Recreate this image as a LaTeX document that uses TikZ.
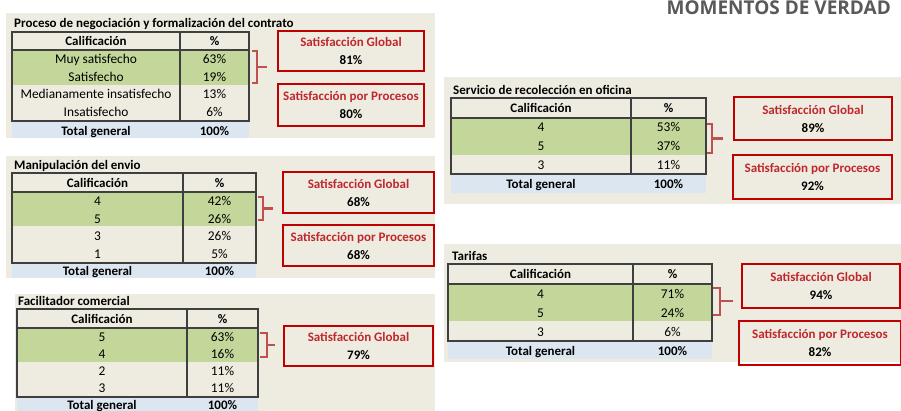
\documentclass[tikz,border=0pt]{standalone}
\usepackage{fontspec}
\setmainfont{Carlito}
\newfontfamily\headfont{Open Sans}
\usepackage{xcolor}
\usetikzlibrary{positioning,calc}

\definecolor{panelbg}{HTML}{EEECE1}
\definecolor{okgreen}{HTML}{C4D79B}
\definecolor{totblue}{HTML}{DCE6F1}
\definecolor{boxred}{HTML}{C00000}
\definecolor{txtred}{HTML}{C0272D}
\definecolor{brred}{HTML}{C0504D}
\definecolor{gridgray}{HTML}{3F3F3F}
\definecolor{headgray}{HTML}{595959}

\begin{document}
\begin{tikzpicture}[
    x=1pt, y=-1pt,
    font=\fontsize{13.4}{15}\selectfont,
    panel/.style={fill=panelbg},
    grid/.style={draw=gridgray, line width=1.3pt},
    cell/.style={inner sep=0pt, anchor=center, text height=8.2pt, text depth=0pt},
    hdr/.style={cell, font=\fontsize{13}{15}\selectfont\bfseries},
    ttl/.style={inner sep=0pt, anchor=west, font=\fontsize{13}{15}\selectfont\bfseries},
    resbox/.style={
        rectangle,
        draw=boxred,
        line width=2.6pt,
        align=center,
        inner sep=0pt,
        font=\fontsize{13}{18}\selectfont\bfseries
      },
    brace/.style={draw=brred, line width=2.4pt}
    ]

    \useasboundingbox (0,0) rectangle (901,411);

    % title
    \node[anchor=north east, inner sep=0pt, text=headgray,
          font=\headfont\fontsize{19}{22}\selectfont\bfseries] (title) at (891,1) {MOMENTOS DE VERDAD};

    % Proceso de negociacion
    \fill[panel] (6,13) rectangle (435,138);
    \node[ttl] (t1) at (14,24) {Proceso de negociación y formalización del contrato};
    \fill[okgreen] (12,50) rectangle (249,85);
    \fill[totblue] (12,121) rectangle (249,138);
    \draw[grid] (12,32) rectangle (249,121);
    \draw[grid] (12,50) -- (249,50);
    \draw[grid] (180,32) -- (180,121);
    \node[hdr] (h1a) at (96,41.5) {Calificación};
    \node[hdr] (h1b) at (214.5,41.5) {\%};
    \foreach \lab/\pct [count=\i] in {Muy satisfecho/63\%, Satisfecho/19\%, Medianamente insatisfecho/13\%, Insatisfecho/6\%} {
      \node[cell] (r1a\i) at (96,{50.5+17.75*(\i-0.5)}) {\lab};
      \node[cell] (r1b\i) at (214.5,{50.5+17.75*(\i-0.5)}) {\pct};
    }
    \node[hdr] (s1a) at (96,131) {Total general};
    \node[hdr] (s1b) at (214.5,131) {100\%};
    \draw[brace] (252,51) -- (257,51) -- (257,83) -- (252,83);
    \draw[brace] (257,67) -- (267,67);
    \node[resbox, minimum width=146pt, minimum height=40pt] (g1) at (351,51) {\textcolor{txtred}{Satisfacción Global}\\81\%};
    \node[resbox, minimum width=146pt, minimum height=42pt] (p1) at (351,105) {\textcolor{txtred}{Satisfacción por Procesos}\\80\%};

    % Manipulacion del envio
    \fill[panel] (6,156) rectangle (435,278);
    \node[ttl] (t2) at (14,166) {Manipulación del envio};
    \fill[okgreen] (12,192) rectangle (256,226);
    \fill[totblue] (12,263) rectangle (256,278);
    \draw[grid] (12,173) rectangle (256,263);
    \draw[grid] (12,192) -- (256,192);
    \draw[grid] (183,173) -- (183,263);
    \node[hdr] (h2a) at (97.5,183) {Calificación};
    \node[hdr] (h2b) at (219.5,183) {\%};
    \foreach \lab/\pct [count=\i] in {4/42\%, 5/26\%, 3/26\%, 1/5\%} {
      \node[cell] (r2a\i) at (97.5,{192.5+17.75*(\i-0.5)}) {\lab};
      \node[cell] (r2b\i) at (219.5,{192.5+17.75*(\i-0.5)}) {\pct};
    }
    \node[hdr] (s2a) at (97.5,271.5) {Total general};
    \node[hdr] (s2b) at (219.5,271.5) {100\%};
    \draw[brace] (258,197) -- (263,197) -- (263,220) -- (258,220);
    \draw[brace] (263,208.5) -- (273,208.5);
    \node[resbox, minimum width=151pt, minimum height=41pt] (g2) at (358.5,192.5) {\textcolor{txtred}{Satisfacción Global}\\68\%};
    \node[resbox, minimum width=151pt, minimum height=41pt] (p2) at (358.5,245.5) {\textcolor{txtred}{Satisfacción por Procesos}\\68\%};

    % Facilitador comercial
    \fill[panel] (15,294) rectangle (435,411);
    \node[ttl] (t3) at (18,301) {Facilitador comercial};
    \fill[okgreen] (17,328) rectangle (258,362);
    \fill[totblue] (17,397) rectangle (258,414);
    \draw[grid] (17,309) rectangle (258,397);
    \draw[grid] (17,328) -- (258,328);
    \draw[grid] (187,309) -- (187,397);
    \node[hdr] (h3a) at (102,319) {Calificación};
    \node[hdr] (h3b) at (222.5,319) {\%};
    \foreach \lab/\pct [count=\i] in {5/63\%, 4/16\%, 2/11\%, 3/11\%} {
      \node[cell] (r3a\i) at (102,{328.5+17.25*(\i-0.5)}) {\lab};
      \node[cell] (r3b\i) at (222.5,{328.5+17.25*(\i-0.5)}) {\pct};
    }
    \node[hdr] (s3a) at (102,405.5) {Total general};
    \node[hdr] (s3b) at (222.5,405.5) {100\%};
    \draw[brace] (260,333) -- (267,333) -- (267,357) -- (260,357);
    \draw[brace] (267,345) -- (275,345);
    \node[resbox, minimum width=149pt, minimum height=40pt] (g3) at (358.5,346) {\textcolor{txtred}{Satisfacción Global}\\79\%};

    % Servicio de recoleccion en oficina
    \fill[panel] (444,77) rectangle (901,204);
    \node[ttl] (t4) at (453,90) {Servicio de recolección en oficina};
    \fill[okgreen] (451,118) rectangle (706,155);
    \fill[totblue] (451,174) rectangle (706,193);
    \draw[grid] (451,98) rectangle (706,174);
    \draw[grid] (451,118) -- (706,118);
    \draw[grid] (631,98) -- (631,174);
    \node[hdr] (h4a) at (541,108.5) {Calificación};
    \node[hdr] (h4b) at (668.5,108.5) {\%};
    \foreach \lab/\pct [count=\i] in {4/53\%, 5/37\%, 3/11\%} {
      \node[cell] (r4a\i) at (541,{118.5+18.67*(\i-0.5)}) {\lab};
      \node[cell] (r4b\i) at (668.5,{118.5+18.67*(\i-0.5)}) {\pct};
    }
    \node[hdr] (s4a) at (541,184.5) {Total general};
    \node[hdr] (s4b) at (668.5,184.5) {100\%};
    \draw[brace] (707,124) -- (712,124) -- (712,153) -- (707,153);
    \draw[brace] (712,138.5) -- (723,138.5);
    \node[resbox, minimum width=158pt, minimum height=43pt] (g4) at (813,118.5) {\textcolor{txtred}{Satisfacción Global}\\89\%};
    \node[resbox, minimum width=159pt, minimum height=44pt] (p4) at (812.5,177) {\textcolor{txtred}{Satisfacción por Procesos}\\92\%};

    % Tarifas
    \fill[panel] (444,244) rectangle (901,362);
    \node[ttl] (t5) at (452,256) {Tarifas};
    \fill[okgreen] (448,284) rectangle (712,321);
    \fill[totblue] (448,341) rectangle (712,359);
    \draw[grid] (448,264) rectangle (712,341);
    \draw[grid] (448,284) -- (712,284);
    \draw[grid] (633,264) -- (633,341);
    \node[hdr] (h5a) at (540.5,274.5) {Calificación};
    \node[hdr] (h5b) at (672.5,274.5) {\%};
    \foreach \lab/\pct [count=\i] in {4/71\%, 5/24\%, 3/6\%} {
      \node[cell] (r5a\i) at (540.5,{284.5+19*(\i-0.5)}) {\lab};
      \node[cell] (r5b\i) at (672.5,{284.5+19*(\i-0.5)}) {\pct};
    }
    \node[hdr] (s5a) at (540.5,351) {Total general};
    \node[hdr] (s5b) at (672.5,351) {100\%};
    \draw[brace] (713,288) -- (720,288) -- (720,315) -- (713,315);
    \draw[brace] (720,301) -- (733,301);
    \node[resbox, minimum width=158pt, minimum height=44pt] (g5) at (821,286) {\textcolor{txtred}{Satisfacción Global}\\94\%};
    \node[resbox, minimum width=162pt, minimum height=44pt] (p5) at (820,343) {\textcolor{txtred}{Satisfacción por Procesos}\\82\%};

  \end{tikzpicture}
\end{document}
